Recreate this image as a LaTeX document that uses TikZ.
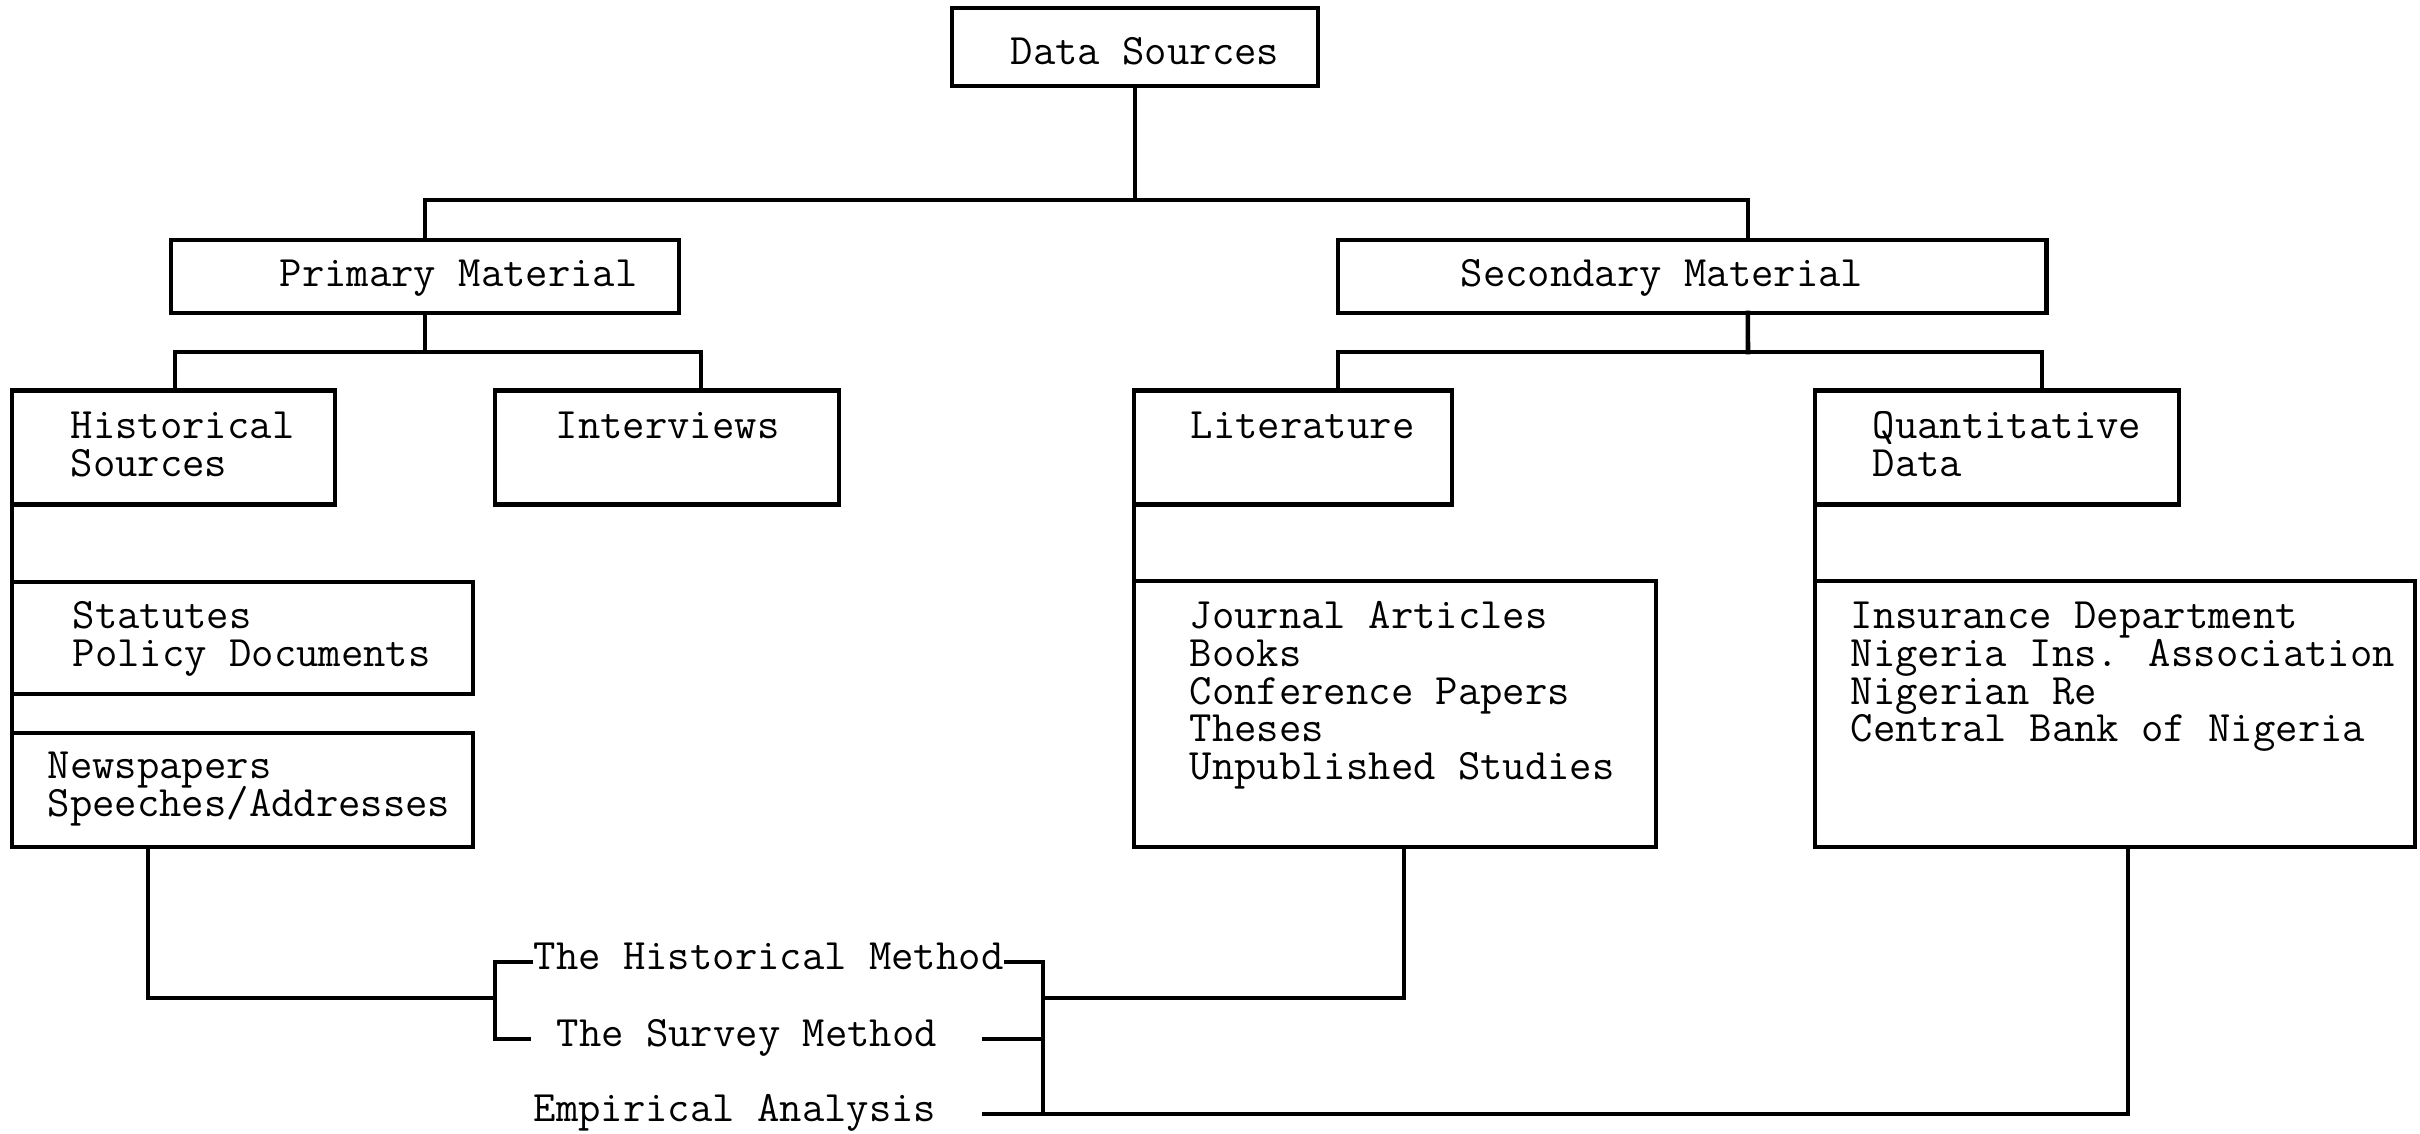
\documentclass[tikz,border=0pt]{standalone}
\usepackage{fontspec}
\usetikzlibrary{calc}
% stacked lines with a fixed baseline pitch; the baseline is that of the first line
\newcommand\linestack[1]{\vtop{\lineskiplimit=-\maxdimen\lineskip=0pt\halign{##\hfil\cr#1\crcr}}}
\begin{document}
\begin{tikzpicture}[x=0.01cm, y=-0.01cm,
  box/.style={draw, line width=1.3pt, rectangle, inner sep=0pt, outer sep=0pt},
  conn/.style={draw, line width=1.3pt, line cap=rect},
  txt/.style={inner sep=0pt, anchor=base west, font=\ttfamily\fontsize{12.35pt}{10.7pt}\selectfont},
  method/.style={txt, text height=0.7em, text depth=0.25em}]
\useasboundingbox (0,0) rectangle (2420,1134);

% ---- boxes ----
\node[box, minimum width=3.66cm, minimum height=0.78cm] (ds)  at (1135,47) {};
\node[box, minimum width=5.08cm, minimum height=0.73cm] (pm)  at (425,276.5) {};
\node[box, minimum width=7.08cm, minimum height=0.73cm] (sm)  at (1692,276.5) {};
\node[box, minimum width=3.23cm, minimum height=1.14cm] (hs)  at (173.5,447.5) {};
\node[box, minimum width=3.44cm, minimum height=1.14cm] (iv)  at (667,447.5) {};
\node[box, minimum width=3.18cm, minimum height=1.14cm] (lit) at (1293,447.5) {};
\node[box, minimum width=3.64cm, minimum height=1.14cm] (qd)  at (1997,447.5) {};
\node[box, minimum width=4.61cm, minimum height=1.12cm] (st)  at (242.5,638) {};
\node[box, minimum width=4.61cm, minimum height=1.14cm] (np)  at (242.5,790) {};
\node[box, minimum width=5.22cm, minimum height=2.66cm] (ja)  at (1395,714) {};
\node[box, minimum width=6.00cm, minimum height=2.66cm] (ins) at (2115,714) {};

% ---- box texts ----
\node[txt] (tds)  at (1010,65)  {Data Sources};
\node[txt] (tpm)  at (279,287)  {Primary Material};
\node[txt] (tsm)  at (1460,287) {Secondary Material};
\node[txt] (ths)  at (70,439)   {\linestack{Historical\cr Sources}};
\node[txt] (tiv)  at (555,439)  {Interviews};
\node[txt] (tlit) at (1190,439) {Literature};
\node[txt] (tqd)  at (1872,439) {\linestack{Quantitative\cr Data}};
\node[txt] (tst)  at (72,629)   {\linestack{Statutes\cr Policy Documents}};
\node[txt] (tnp)  at (47,779)   {\linestack{Newspapers\cr Speeches/Addresses}};
\node[txt] (tja)  at (1189,629) {\linestack{Journal Articles\cr Books\cr Conference Papers\cr Theses\cr Unpublished Studies}};
\node[txt] (tins) at (1850,629) {\linestack{Insurance Department\cr Nigeria Ins. Association\cr Nigerian Re\cr Central Bank of Nigeria}};

% ---- methods ----
\node[method] (hm) at (533,970)  {The Historical Method};
\node[method] (sv) at (556,1047) {The Survey Method};
\node[method] (ea) at (533,1122) {Empirical Analysis};

% ---- junctions ----
\coordinate (j0) at (1135,200);
\coordinate (j1) at (425,352);
\coordinate (j2) at (1748,352);
\coordinate (jb) at (495,998);
\coordinate (rx) at (1043,0);
\coordinate (rv) at (rx |- ea.east);

% ---- tree connectors ----
\draw[conn] (ds.south) -- (j0);
\draw[conn] (pm.north) |- (j0) -| ($(sm.north west)+(410,0)$);
\draw[conn] (pm.south) -- (j1);
\draw[conn] ($(hs.north west)+(163,0)$) |- (j1) -| ($(iv.north west)+(206,0)$);
\draw[conn] ($(sm.south west)+(410,0)$) -- (j2);
\draw[conn] ($(lit.north west)+(204,0)$) |- (j2) -| ($(qd.north west)+(227,0)$);

% ---- side spines ----
\draw[conn] (hs.south west) -- (hs.south west |- np.north);
\draw[conn] (lit.south west) -- (lit.south west |- ja.north);
\draw[conn] (qd.south west) -- (qd.south west |- ins.north);

% ---- links to the methods ----
\draw[conn] ($(np.south west)+(136,0)$) |- (jb);
\draw[conn] ($(hm.west)+(-2,0)$) -| (jb |- sv.west) -- ($(sv.west)+(-27,0)$);
\draw[conn] ($(hm.east)+(2,0)$) -| (rv);
\draw[conn] ($(sv.east)+(47,0)$) -- (sv.east -| rv);
\draw[conn] ($(ea.east)+(47,0)$) -- (rv) -| ($(ins.south west)+(313,0)$);
\draw[conn] ($(ja.south west)+(270,0)$) |- (rv |- jb);
\end{tikzpicture}
\end{document}
